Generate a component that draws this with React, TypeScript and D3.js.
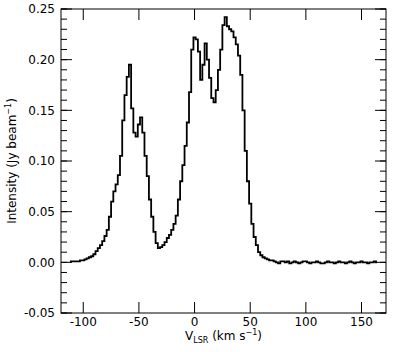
import React from "react";
import * as d3 from "d3";

// Channel velocities (km/s): first channel centre and channel width
const V_START = -112;
const CHANNEL_WIDTH = 2;

// Intensity (Jy/beam) per channel, starting at V_START
const intensity: number[] = [
  0.001, 0.001, 0.001, 0.001, 0.001, 0.002, 0.002, 0.003, 0.004, 0.005,
  0.006, 0.008, 0.011, 0.014, 0.017, 0.021, 0.026, 0.032, 0.045, 0.060,
  0.070, 0.077, 0.086, 0.105, 0.140, 0.165, 0.183, 0.195, 0.152, 0.128,
  0.124, 0.136, 0.143, 0.128, 0.105, 0.085, 0.062, 0.045, 0.030, 0.019,
  0.014, 0.015, 0.017, 0.020, 0.024, 0.027, 0.032, 0.038, 0.046, 0.062,
  0.080, 0.096, 0.115, 0.138, 0.168, 0.210, 0.222, 0.220, 0.208, 0.180,
  0.195, 0.216, 0.200, 0.182, 0.162, 0.158, 0.170, 0.190, 0.210, 0.234,
  0.242, 0.233, 0.230, 0.228, 0.222, 0.215, 0.204, 0.185, 0.150, 0.110,
  0.080, 0.058, 0.038, 0.025, 0.017, 0.010, 0.007, 0.005, 0.004, 0.003,
  0.002, 0.002, 0.001, 0.000, -0.001, 0.001, 0.001, 0.000, 0.001, -0.001,
  0.000, 0.001, 0.000, -0.001, 0.000, 0.001, 0.001, 0.000, -0.001, 0.000,
  0.000, 0.001, 0.000, -0.001, -0.001, 0.000, 0.001, 0.000, 0.000, -0.001,
  0.000, 0.001, 0.000, 0.000, -0.001, 0.000, 0.001, 0.000, -0.001, 0.000,
  0.000, 0.001, 0.000, 0.000, -0.001, 0.000, 0.000, 0.001, 0.000,
];

const xTicks = [-100, -50, 0, 50, 100, 150];
const yTicks = [-0.05, 0.0, 0.05, 0.1, 0.15, 0.2, 0.25];
const yMinorTicks = d3.range(-5, 26).map((i) => i / 100);

const X_DOMAIN: [number, number] = [-120, 172];
const Y_DOMAIN: [number, number] = [-0.05, 0.25];

export default function App() {
  const W = 399, H = 352;
  const L = 61, R = 386, T = 9, B = 313;
  const x = d3.scaleLinear().domain(X_DOMAIN).range([L, R]);
  const y = d3.scaleLinear().domain(Y_DOMAIN).range([B, T]);

  const pts: [number, number][] = intensity.map((v, i) => [V_START + i * CHANNEL_WIDTH, v]);
  const line = d3
    .line<[number, number]>()
    .x((d) => x(d[0]))
    .y((d) => y(d[1]))
    .curve(d3.curveStep);
  const path = line(pts) || "";

  const font = "DejaVu Sans, sans-serif";
  const majorLen = 11;
  const minorLen = 6;

  return (
    <svg
      width={W}
      height={H}
      style={{ position: "absolute", left: 0, top: 0, background: "#fff" }}
      fontFamily={font}
    >
      <rect x={0} y={0} width={W} height={H} fill="#fff" />
      <path d={path} fill="none" stroke="#000" strokeWidth={1.8} strokeLinejoin="miter" />
      {/* frame */}
      <rect x={L} y={T} width={R - L} height={B - T} fill="none" stroke="#000" strokeWidth={1} />
      {/* x ticks */}
      {xTicks.map((t) => (
        <g key={"x" + t}>
          <line x1={x(t)} x2={x(t)} y1={B} y2={B - majorLen} stroke="#000" strokeWidth={1} />
          <line x1={x(t)} x2={x(t)} y1={T} y2={T + majorLen} stroke="#000" strokeWidth={1} />
          <text x={x(t)} y={326} textAnchor="middle" fontSize={12} fill="#000">
            {String(t)}
          </text>
        </g>
      ))}
      {/* y minor ticks */}
      {yMinorTicks.map((t) => (
        <g key={"ym" + t}>
          <line x1={L} x2={L + minorLen} y1={y(t)} y2={y(t)} stroke="#000" strokeWidth={1} />
          <line x1={R} x2={R - minorLen} y1={y(t)} y2={y(t)} stroke="#000" strokeWidth={1} />
        </g>
      ))}
      {/* y major ticks */}
      {yTicks.map((t) => (
        <g key={"y" + t}>
          <line x1={L} x2={L + majorLen} y1={y(t)} y2={y(t)} stroke="#000" strokeWidth={1} />
          <line x1={R} x2={R - majorLen} y1={y(t)} y2={y(t)} stroke="#000" strokeWidth={1} />
          <text x={55} y={y(t) + 4.3} textAnchor="end" fontSize={12} fill="#000">
            {t.toFixed(2)}
          </text>
        </g>
      ))}
      {/* x label */}
      <text x={(L + R) / 2} y={340} textAnchor="middle" fontSize={12} fill="#000">
        V
        <tspan fontSize={8} dy={3}>LSR</tspan>
        <tspan dy={-3}> (km s</tspan>
        <tspan fontSize={8} dy={-5}>−1</tspan>
        <tspan dy={5}>)</tspan>
      </text>
      {/* y label */}
      <text
        transform={`translate(16,${(T + B) / 2}) rotate(-90)`}
        textAnchor="middle"
        fontSize={12}
        fill="#000"
      >
        Intensity (Jy beam
        <tspan fontSize={8} dy={-5}>−1</tspan>
        <tspan dy={5}>)</tspan>
      </text>
    </svg>
  );
}
